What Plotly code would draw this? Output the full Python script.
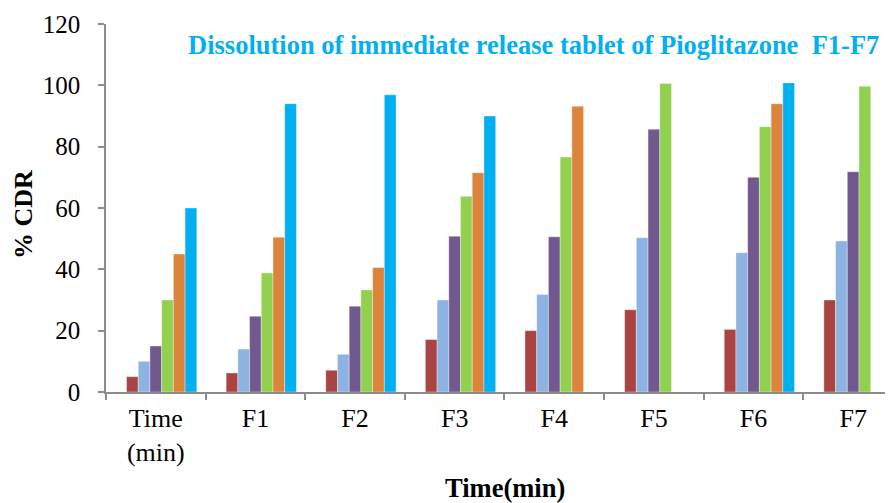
import plotly.graph_objects as go

categories = ["Time<br>(min)", "F1", "F2", "F3", "F4", "F5", "F6", "F7"]
s_red = [5, 6.2, 7.1, 17.1, 20, 26.8, 20.4, 30]
s_blue = [10, 14, 12.3, 30, 31.8, 50.3, 45.4, 49.2]
s_purple = [15, 24.7, 28, 50.8, 50.6, 85.7, 70, 71.8]
s_green = [30, 38.8, 33.3, 63.8, 76.6, 100.6, 86.5, 99.7]
s_orange = [45, 50.5, 40.6, 71.5, 93.2, None, 94, None]
s_cyan = [60, 94, 96.9, 90, None, None, 100.8, None]
s_hidden = [None] * 8

colors = ["#A94442", "#8DB3E2", "#71588F", "#92D050", "#DC843C", "#00B0F0"]
series = [s_red, s_blue, s_purple, s_green, s_orange, s_cyan]

fig = go.Figure()
fig.add_trace(go.Bar(x=categories, y=s_hidden, showlegend=False))
for vals, c in zip(series, colors):
    fig.add_trace(go.Bar(x=categories, y=vals, marker=dict(color=c, line=dict(width=0.6, color="rgba(255,255,255,0.6)")), showlegend=False))

serif = "Liberation Serif, Times New Roman, serif"
OFF = 8  # page body margin
W, H = 893, 503
# desired screen plot box: x 106..893, y 24..392
L, T = 106 - OFF, 24 - OFF
R = W - (893 - OFF)
B = H - (392 - OFF)
fig.update_layout(
    width=W, height=H,
    margin=dict(l=L, r=R, t=T, b=B, autoexpand=False),
    paper_bgcolor="white", plot_bgcolor="white",
    barmode="group", bargap=0.177, bargroupgap=0,
    font=dict(family=serif, size=25, color="black"),
    xaxis=dict(
        range=[-0.5, 7.4], showline=True, linecolor="#8C8C8C", linewidth=1.5,
        ticks="outside", tickson="boundaries", ticklen=6, tickcolor="#8C8C8C", tickwidth=1.5,
        tickfont=dict(family=serif, size=26), showgrid=False, automargin=False,
        ticklabelstandoff=2,
    ),
    yaxis=dict(
        range=[0, 120], dtick=20, showline=True, linecolor="#8C8C8C", linewidth=1.5,
        ticks="outside", ticklen=6, tickcolor="#8C8C8C", tickwidth=1.5,
        tickfont=dict(family=serif, size=25), showgrid=False, zeroline=False,
        automargin=False, ticklabelstandoff=13,
    ),
)
pw = W - L - R
ph = H - T - B
def px(x, y):
    # screen pixel -> paper coords
    x -= OFF
    y -= OFF
    return (x - L) / pw, (H - B - y) / ph

x0, y0 = px(881, 45)
x1, y1 = px(23, 215)
x2, y2 = px(505, 488)
fig.update_layout(annotations=[
    dict(text="<b>Dissolution of immediate release tablet of Pioglitazone  F1-F7</b>",
         x=x0, y=y0, xref="paper", yref="paper", showarrow=False,
         font=dict(family=serif, size=26.5, color="#00B0F0"), xanchor="right", yanchor="middle"),
    dict(text="<b>% CDR</b>", textangle=-90, x=x1, y=y1, xref="paper", yref="paper",
         showarrow=False, font=dict(family=serif, size=26), xanchor="center", yanchor="middle"),
    dict(text="<b>Time(min)</b>", x=x2, y=y2, xref="paper", yref="paper",
         showarrow=False, font=dict(family=serif, size=26.5), xanchor="center", yanchor="middle"),
])
fig.write_html("out.html")
